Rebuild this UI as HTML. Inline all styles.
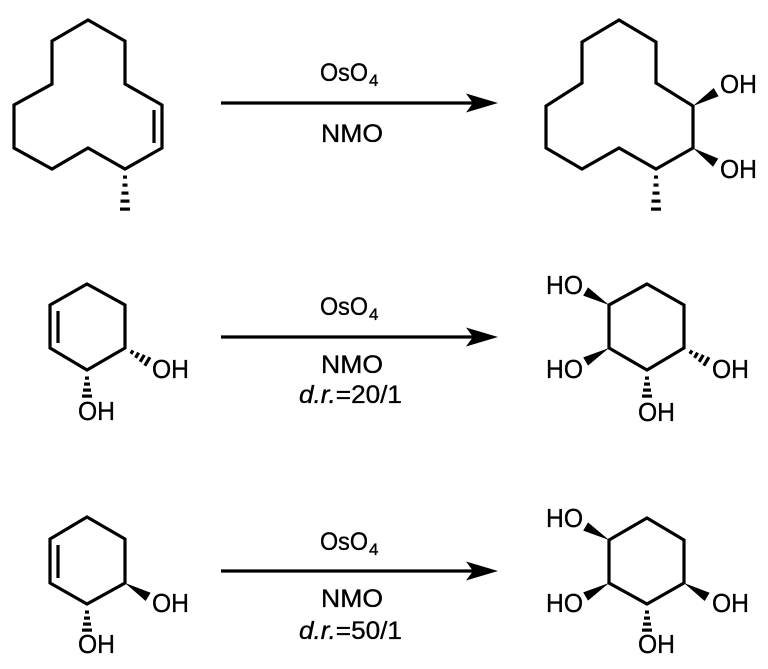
<!DOCTYPE html>
<html>
<head>
<meta charset="utf-8">
<style>
html,body{margin:0;padding:0;background:#fff;}
svg{display:block;}
text{font-family:"Liberation Sans",Arial,sans-serif;fill:#000;stroke:#000;stroke-width:0.35px;}
</style>
</head>
<body>
<svg width="768" height="669" viewBox="0 0 768 669" xmlns="http://www.w3.org/2000/svg">
<defs>
  <g id="hashL">
    <rect x="6.5" y="-2" width="3.2" height="4"/>
    <rect x="14.5" y="-2.5" width="3.2" height="5"/>
    <rect x="22.5" y="-3.5" width="3.2" height="7"/>
    <rect x="30.5" y="-4.5" width="3.2" height="9"/>
    <rect x="38.5" y="-5" width="3.2" height="10"/>
  </g>
  <g id="hashS">
    <rect x="6.5" y="-2" width="3.2" height="4"/>
    <rect x="12.5" y="-3" width="3.2" height="6"/>
    <rect x="18.5" y="-4" width="3.2" height="8"/>
    <rect x="24.5" y="-5" width="3.2" height="10"/>
  </g>
  <polygon id="wedge" points="0,0 27,-4.8 27,4.8"/>
  <polygon id="ahead" points="0,0 -32,-9.5 -25,0 -32,9.5"/>
</defs>
<rect width="768" height="669" fill="#fff"/>

<g fill="none" stroke="#000" stroke-width="3.2" stroke-linejoin="miter">
  <polygon points="88,20 52,41 52,84 14,105 14,148 52,169 88,148 125,169 162,148 162,105 125,84 125,41"/>
  <line x1="154" y1="110" x2="154" y2="143"/>
  <polygon points="619,20 582,42 582,83 546,106 546,148 582,169 619,148 656,169 693,148 693,106 656,83 656,42"/>
  <polygon points="87,284 125,305 125,348 87,370 50,348 50,305"/>
  <line x1="58" y1="311" x2="58" y2="343"/>
  <polygon points="647,284 684,305 684,348 647,370 609,348 609,305"/>
  <polygon points="87,517 125,539 125,583 87,604 50,583 50,539"/>
  <line x1="58" y1="545" x2="58" y2="578"/>
  <polygon points="647,518 684,540 684,583 647,604 609,583 609,540"/>
  <line x1="221" y1="103" x2="480" y2="103"/>
  <line x1="221" y1="337" x2="480" y2="337"/>
  <line x1="221" y1="571" x2="480" y2="571"/>
</g>

<g fill="#000">
  <use href="#ahead" transform="translate(498,103)"/>
  <use href="#ahead" transform="translate(498,337)"/>
  <use href="#ahead" transform="translate(498,571)"/>

  <use href="#hashL" transform="translate(125,169) rotate(90)"/>
  <use href="#hashL" transform="translate(656,169) rotate(90)"/>
  <use href="#wedge" transform="translate(693,106) rotate(-31)"/>
  <use href="#wedge" transform="translate(693,148) rotate(33)"/>

  <use href="#hashS" transform="translate(125,348) rotate(31)"/>
  <use href="#hashS" transform="translate(87,370) rotate(90)"/>
  <use href="#wedge" transform="translate(609,305) rotate(210)"/>
  <use href="#wedge" transform="translate(609,348) rotate(150)"/>
  <use href="#hashS" transform="translate(684,348) rotate(31)"/>
  <use href="#hashS" transform="translate(647,370) rotate(90)"/>

  <use href="#wedge" transform="translate(125,583) rotate(31)"/>
  <use href="#hashS" transform="translate(87,604) rotate(90)"/>
  <use href="#wedge" transform="translate(609,540) rotate(210)"/>
  <use href="#wedge" transform="translate(609,583) rotate(150)"/>
  <use href="#wedge" transform="translate(684,583) rotate(31)"/>
  <use href="#hashS" transform="translate(647,604) rotate(90)"/>
</g>

<g font-size="26">
  <text x="720" y="93" textLength="37" lengthAdjust="spacingAndGlyphs">OH</text>
  <text x="720" y="178" textLength="37" lengthAdjust="spacingAndGlyphs">OH</text>

  <text x="152" y="378" textLength="37" lengthAdjust="spacingAndGlyphs">OH</text>
  <text x="78" y="420" textLength="37" lengthAdjust="spacingAndGlyphs">OH</text>
  <text x="546" y="294" textLength="37" lengthAdjust="spacingAndGlyphs">HO</text>
  <text x="546" y="378" textLength="37" lengthAdjust="spacingAndGlyphs">HO</text>
  <text x="712" y="378" textLength="37" lengthAdjust="spacingAndGlyphs">OH</text>
  <text x="638" y="421" textLength="37" lengthAdjust="spacingAndGlyphs">OH</text>

  <text x="152" y="612" textLength="37" lengthAdjust="spacingAndGlyphs">OH</text>
  <text x="78" y="653" textLength="37" lengthAdjust="spacingAndGlyphs">OH</text>
  <text x="546" y="527" textLength="37" lengthAdjust="spacingAndGlyphs">HO</text>
  <text x="546" y="612" textLength="37" lengthAdjust="spacingAndGlyphs">HO</text>
  <text x="712" y="612" textLength="37" lengthAdjust="spacingAndGlyphs">OH</text>
  <text x="638" y="653" textLength="37" lengthAdjust="spacingAndGlyphs">OH</text>
</g>

<g font-size="25">
  <text x="320" y="81" textLength="48" lengthAdjust="spacingAndGlyphs">OsO</text>
  <text x="369" y="86" font-size="17">4</text>
  <text x="321" y="142" textLength="62" lengthAdjust="spacingAndGlyphs">NMO</text>

  <text x="320" y="315" textLength="48" lengthAdjust="spacingAndGlyphs">OsO</text>
  <text x="369" y="320" font-size="17">4</text>
  <text x="321" y="373" textLength="62" lengthAdjust="spacingAndGlyphs">NMO</text>
  <text x="299" y="403" textLength="103" lengthAdjust="spacingAndGlyphs"><tspan font-style="italic">d.r.</tspan>=20/1</text>

  <text x="320" y="550" textLength="48" lengthAdjust="spacingAndGlyphs">OsO</text>
  <text x="369" y="555" font-size="17">4</text>
  <text x="321" y="607" textLength="62" lengthAdjust="spacingAndGlyphs">NMO</text>
  <text x="299" y="639" textLength="103" lengthAdjust="spacingAndGlyphs"><tspan font-style="italic">d.r.</tspan>=50/1</text>
</g>
</svg>
</body>
</html>
